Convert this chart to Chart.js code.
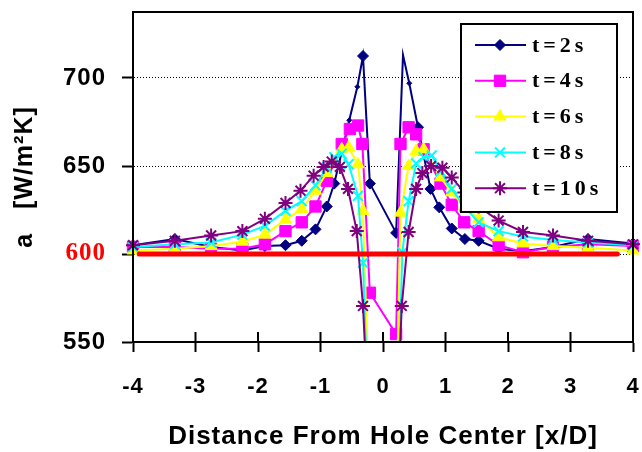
<!DOCTYPE html>
<html>
<head>
<meta charset="utf-8">
<script src="https://cdn.jsdelivr.net/npm/chart.js@4/dist/chart.umd.min.js"></script>
<style>
  html, body { margin: 0; padding: 0; background: #fff; }
</style>
</head>
<body>
<canvas id="chart" width="642" height="452"></canvas>
<script>
// Values
const xTicks = [-4, -3, -2, -1, 0, 1, 2, 3, 4];
const yTicks = [550, 600, 650, 700];
const seriesNames = ['t=2s', 't=4s', 't=6s', 't=8s', 't=10s'];

const x2 = [-4, -3.33, -2.75, -2.25, -1.89, -1.56, -1.3, -1.08, -0.9, -0.78, -0.54, -0.41, -0.32, -0.21,
            0.21, 0.32, 0.42, 0.56, 0.76, 0.9, 1.1, 1.31, 1.53, 1.85, 2.24, 2.72, 3.28, 4];
const y2 = [605, 608.5, 604, 602, 604.5, 605, 607.5, 614, 627, 640, 676, 695, 712.5, 640,
            612, 713, 697, 672, 637, 626.5, 614.5, 608.5, 607.5, 603, 601.5, 604, 608.5, 606];

const x4 = [-4, -3.33, -2.75, -2.25, -1.89, -1.56, -1.3, -1.08, -0.9, -0.66, -0.53, -0.4, -0.33, -0.21,
            0.21, 0.28, 0.41, 0.53, 0.65, 0.92, 1.1, 1.3, 1.53, 1.85, 2.24, 2.72, 3.28, 4];
const y4 = [604, 604, 603, 603, 605.5, 613, 618, 627, 641.5, 662.5, 671, 673, 662.5, 578,
            554.5, 662.5, 672, 668, 659.5, 640, 628, 618, 613, 605, 601, 604, 605.5, 604.5];

const x6 = [-4, -3.33, -2.75, -2.25, -1.89, -1.56, -1.3, -1.08, -0.9, -0.66, -0.55, -0.4, -0.32, -0.21,
            0.21, 0.28, 0.41, 0.53, 0.65, 0.92, 1.1, 1.3, 1.53, 1.85, 2.24, 2.72, 3.28, 4];
const y6 = [602, 603, 604.5, 607, 611, 619.5, 625.5, 636, 646, 659.5, 660.5, 651, 624.5, 500,
            500, 623.5, 650, 658.5, 659.5, 643.5, 635, 627, 620, 609.5, 606, 604.5, 603.5, 602];

const x8 = [-4, -3.33, -2.75, -2.25, -1.89, -1.56, -1.3, -1.08, -0.9, -0.78, -0.66, -0.55, -0.4, -0.32, -0.21,
            0.21, 0.31, 0.41, 0.53, 0.65, 0.78, 0.92, 1.1, 1.3, 1.53, 1.85, 2.24, 2.72, 3.28, 4];
const y8 = [604, 605.5, 606.5, 611, 616, 624.5, 630, 639, 649, 655, 657, 651, 633, 595, 480,
            480, 601, 630, 651.5, 655, 656, 647, 637, 627, 618, 613, 610, 608, 606.5, 605];

const x10 = [-4, -3.33, -2.75, -2.25, -1.89, -1.56, -1.32, -1.11, -0.95, -0.82, -0.69, -0.56, -0.42, -0.32, -0.21,
             0.21, 0.3, 0.41, 0.53, 0.63, 0.77, 0.95, 1.1, 1.3, 1.53, 1.85, 2.24, 2.72, 3.28, 4];
const y10 = [605, 607.5, 610.5, 613, 620, 629, 636, 644.5, 649.5, 652.5, 649.5, 637, 613, 570.5, 490,
             490, 570.5, 612.5, 637, 646, 650, 649, 643.5, 635, 627, 619, 612.5, 610.5, 607.5, 605.5];

// red reference line at 600
const refX = [-3.9, 3.75];
const refY = [600, 600];

function toPoints(xs, ys) {
    return xs.map((x, i) => ({ x: x, y: ys[i] }));
}

const sansBold = '"Liberation Sans", Arial, sans-serif';
const serifBold = '"Liberation Serif", "Times New Roman", serif';

function series(label, xs, ys, color, style, radius, order, extra) {
    return Object.assign({
        label: label,
        data: toPoints(xs, ys),
        showLine: true,
        borderColor: color,
        backgroundColor: color,
        borderWidth: 2,
        pointStyle: style,
        pointRadius: radius,
        pointHoverRadius: radius,
        pointBackgroundColor: color,
        pointBorderColor: color,
        pointBorderWidth: 1,
        legendRadius: radius,
        order: order,
        clip: { left: 12, right: 12, top: 12, bottom: 0 }
    }, extra || {});
}

// navy: some markers are barely visible in the reference
const navyRadius = x2.map((x, i) => {
    if (i === 15) return 0;
    if (i === 10 || i === 11 || i === 16) return 2.5;
    return 5.5;
});

const datasets = [
    series(seriesNames[0], x2, y2, '#000080', 'rectRot', navyRadius, 5, { legendRadius: 5.5 }),
    series(seriesNames[1], x4, y4, '#FF00FF', 'rect', 8, 4),
    series(seriesNames[2], x6, y6, '#FFFF00', 'triangle', 7, 3),
    series(seriesNames[3], x8, y8, '#00FFFF', 'crossRot', 7, 2, { pointBorderWidth: 2 }),
    series(seriesNames[4], x10, y10, '#800080', 'star', 7, 1, { pointBorderWidth: 2 }),
    {
        label: 'ref',
        data: toPoints(refX, refY),
        showLine: true,
        borderColor: '#FF0000',
        borderWidth: 5,
        borderCapStyle: 'round',
        pointRadius: 0,
        order: 0,
        clip: 6
    }
];

// letter spacing like the Excel text
const spacing = {
    id: 'spacing',
    beforeDraw(chart) {
        chart.ctx.letterSpacing = '1px';
    }
};

// plot frame and inner tick marks
const frame = {
    id: 'frame',
    afterDatasetsDraw(chart) {
        const ctx = chart.ctx;
        const a = chart.chartArea;
        const xs = chart.scales.x;
        ctx.save();
        ctx.strokeStyle = '#000';
        ctx.lineWidth = 2;
        ctx.strokeRect(a.left, a.top, a.right - a.left, a.bottom - a.top);
        ctx.beginPath();
        xTicks.forEach(v => {
            const px = xs.getPixelForValue(v);
            ctx.moveTo(px, a.bottom - 10);
            ctx.lineTo(px, a.bottom);
        });
        ctx.stroke();
        ctx.restore();
    }
};

// boxed legend with line + marker samples
const boxLegend = {
    id: 'boxLegend',
    afterDraw(chart) {
        const ctx = chart.ctx;
        const left = 461, top = 24, w = 156, h = 188;
        ctx.save();
        ctx.fillStyle = '#fff';
        ctx.fillRect(left, top, w, h);
        ctx.lineWidth = 2;
        ctx.strokeStyle = '#000';
        ctx.strokeRect(left, top, w, h);
        seriesNames.forEach((name, i) => {
            const ds = chart.data.datasets[i];
            const y = 45 + i * 35.8;
            ctx.strokeStyle = ds.borderColor;
            ctx.lineWidth = 2;
            ctx.beginPath();
            ctx.moveTo(475, y);
            ctx.lineTo(526, y);
            ctx.stroke();
            ctx.fillStyle = ds.pointBackgroundColor;
            ctx.strokeStyle = ds.pointBorderColor;
            ctx.lineWidth = ds.pointBorderWidth;
            Chart.helpers.drawPoint(ctx, {
                pointStyle: ds.pointStyle,
                radius: ds.legendRadius,
                rotation: 0,
                borderWidth: ds.pointBorderWidth
            }, 500, y);
            ctx.fillStyle = '#000';
            ctx.font = 'bold 22px ' + serifBold;
            ctx.letterSpacing = '4px';
            ctx.textAlign = 'left';
            ctx.textBaseline = 'middle';
            ctx.fillText(name, 532, y + 1);
        });
        ctx.restore();
    }
};

new Chart(document.getElementById('chart'), {
    type: 'scatter',
    data: { datasets: datasets },
    options: {
        responsive: false,
        animation: false,
        events: [],
        devicePixelRatio: 1,
        layout: { padding: { top: 12, right: 5, left: 0, bottom: 0 } },
        plugins: {
            legend: { display: false },
            tooltip: { enabled: false }
        },
        scales: {
            x: {
                type: 'linear',
                min: -4,
                max: 4,
                afterBuildTicks: s => { s.ticks = xTicks.map(v => ({ value: v })); },
                afterFit: s => { s.height = 110; s.paddingLeft = 0; s.paddingRight = 0; },
                border: { display: true, color: '#000', width: 2 },
                grid: { drawOnChartArea: false, drawTicks: true, tickLength: 10, tickWidth: 2, tickColor: '#000' },
                ticks: {
                    padding: 22,
                    color: '#000',
                    autoSkip: false,
                    maxRotation: 0,
                    font: { family: sansBold, size: 22, weight: 'bold' },
                    callback: v => String(v)
                },
                title: {
                    display: true,
                    text: 'Distance From Hole Center [x/D]',
                    color: '#000',
                    font: { family: sansBold, size: 26, weight: 'bold' },
                    padding: { top: 0, bottom: 0 }
                }
            },
            y: {
                type: 'linear',
                min: 550,
                max: 737.5,
                afterBuildTicks: s => { s.ticks = yTicks.map(v => ({ value: v })); },
                afterFit: s => { s.width = 133; s.paddingTop = 0; s.paddingBottom = 0; },
                border: { display: true, color: '#000', width: 2, dash: [1, 2] },
                grid: {
                    color: '#000',
                    lineWidth: 1,
                    drawTicks: true,
                    tickLength: 11,
                    tickWidth: 2,
                    tickColor: '#000',
                    tickBorderDash: []
                },
                ticks: {
                    padding: 16,
                    color: ctx => ctx.tick && ctx.tick.value === 600 ? '#FF0000' : '#000',
                    font: ctx => ctx.tick && ctx.tick.value === 600
                        ? { family: serifBold, size: 25, weight: 'bold' }
                        : { family: sansBold, size: 24, weight: 'bold' },
                    callback: v => String(v)
                },
                title: {
                    display: true,
                    text: 'a   [W/m\u00B2K]',
                    color: '#000',
                    font: { family: sansBold, size: 25, weight: 'bold' },
                    padding: { top: 10, bottom: 0 }
                }
            }
        }
    },
    plugins: [spacing, frame, boxLegend]
});
</script>
</body>
</html>
